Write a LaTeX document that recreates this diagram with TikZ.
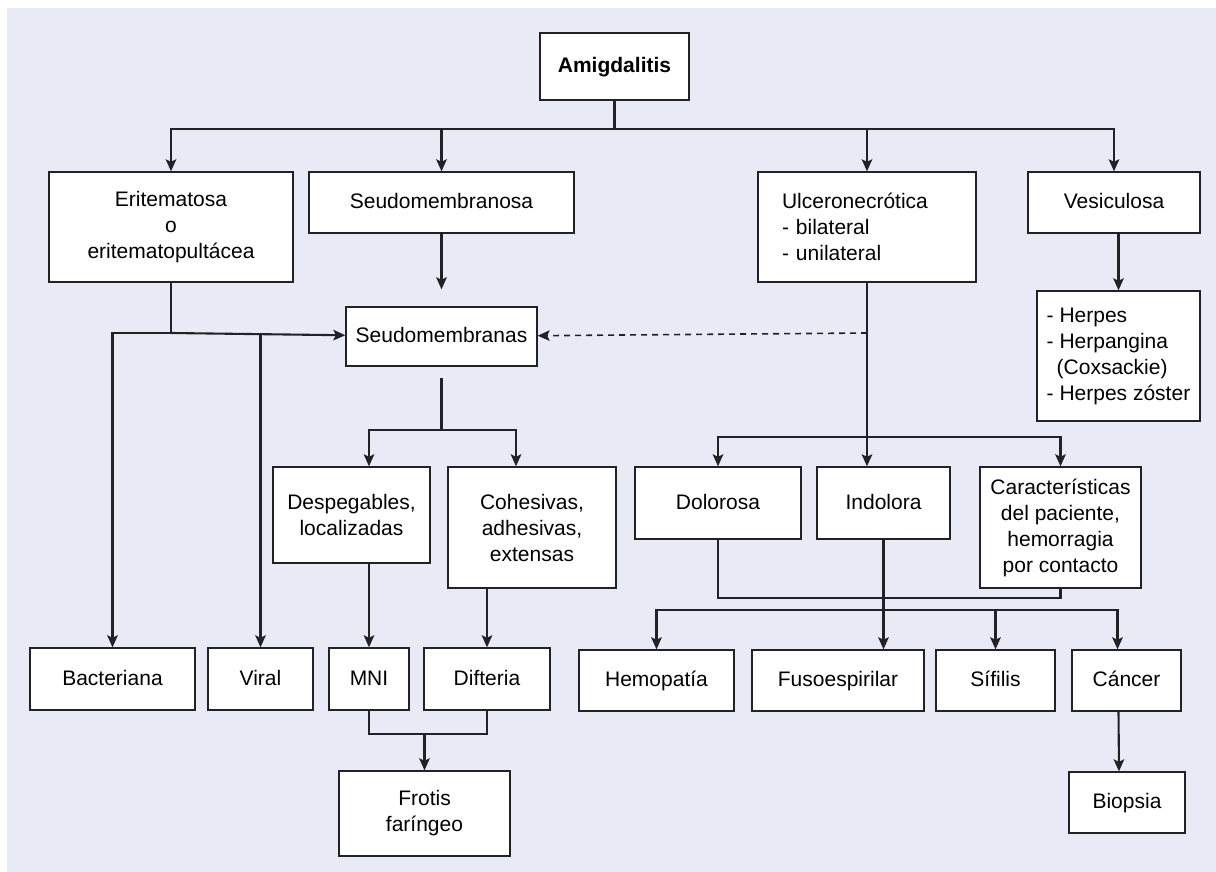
\documentclass[tikz,border=0pt]{standalone}
\usepackage{fontspec}
\setmainfont{Liberation Sans}
\usetikzlibrary{arrows.meta}
\definecolor{bglav}{RGB}{232,235,246}
\definecolor{linegray}{RGB}{34,34,38}
\tikzset{
    box/.style={draw=linegray, fill=white, line width=1.3pt, inner sep=0pt, align=center,
        font=\fontsize{21}{26}\selectfont},
    single/.style={box, text height=16pt, text depth=4pt},
    conn/.style={draw=linegray, line width=2.1pt},
    arr/.style={conn, -{Stealth[length=12pt, width=10.5pt, inset=2.5pt]}},
    darr/.style={arr, line width=1.6pt, dash pattern=on 6pt off 5pt}
}
\begin{document}
\begin{tikzpicture}[x=1pt, y=-1pt]
    \useasboundingbox (0,0) rectangle (1216,872);
    \fill[bglav] (7,8) rectangle (1216,872);

    % Nodes
    \node[single, minimum width=149pt, minimum height=67pt, font=\fontsize{21}{26}\selectfont\bfseries] (amig) at (614.5,66.5) {Amigdalitis};
    \node[box, minimum width=244pt, minimum height=110pt] (erit) at (171,227) {Eritematosa\\o\\eritematopultácea};
    \node[single, minimum width=265pt, minimum height=61pt] (seudo) at (441.5,202.5) {Seudomembranosa};
    \node[box, minimum width=218pt, minimum height=110pt, align=left, text width=170pt] (ulcero) at (867,227) {Ulceronecrótica\\- bilateral\\- unilateral};
    \node[single, minimum width=172pt, minimum height=61pt] (vesic) at (1114,202.5) {Vesiculosa};
    \node[single, minimum width=191pt, minimum height=59pt] (seudomem) at (441.5,336.5) {Seudomembranas};
    \node[box, minimum width=163pt, minimum height=130pt, align=left] (herpes) at (1118.5,356) {- Herpes\\- Herpangina\\\hspace*{10pt}(Coxsackie)\\- Herpes zóster};
    \node[box, minimum width=157pt, minimum height=96pt] (despeg) at (351.5,515) {Despegables,\\localizadas};
    \node[box, minimum width=168pt, minimum height=121pt] (cohes) at (532,527.5) {Cohesivas,\\adhesivas,\\extensas};
    \node[single, minimum width=166pt, minimum height=72pt] (dolor) at (718,503) {Dolorosa};
    \node[single, minimum width=133pt, minimum height=72pt] (indol) at (883.5,503) {Indolora};
    \node[box, minimum width=161pt, minimum height=121pt] (caract) at (1060.5,527.5) {Características\\del paciente,\\hemorragia\\por contacto};
    \node[single, minimum width=165pt, minimum height=62pt] (bact) at (112.5,679) {Bacteriana};
    \node[single, minimum width=105pt, minimum height=62pt] (viral) at (260.5,679) {Viral};
    \node[single, minimum width=80pt, minimum height=62pt] (mni) at (369,679) {MNI};
    \node[single, minimum width=126pt, minimum height=62pt] (dift) at (487,679) {Difteria};
    \node[single, minimum width=155pt, minimum height=61pt] (hemop) at (656.5,680.5) {Hemopatía};
    \node[single, minimum width=172pt, minimum height=61pt] (fuso) at (838,680.5) {Fusoespirilar};
    \node[single, minimum width=119pt, minimum height=61pt] (sifil) at (995.5,680.5) {Sífilis};
    \node[single, minimum width=109pt, minimum height=61pt] (cancer) at (1126.5,680.5) {Cáncer};
    \node[box, minimum width=171pt, minimum height=85pt] (frotis) at (424.5,813.5) {Frotis\\faríngeo};
    \node[single, minimum width=116pt, minimum height=61pt] (biopsia) at (1127,802.5) {Biopsia};

    % Junctions
    \coordinate (topjoin) at (614.5,129);
    \coordinate (erjoin) at (171,333);
    \coordinate (smjoin) at (441.5,430);
    \coordinate (frjoin) at (424.5,734);
    \coordinate (ucjoin) at (867,437);
    \coordinate (dcjoin) at (884,598);
    \coordinate (hsjoin) at (884,610);

    % Lines
    \draw[conn] (amig) -- (topjoin);
    \draw[arr] (topjoin) -| (erit);
    \draw[arr] (topjoin) -| (seudo);
    \draw[arr] (topjoin) -| (ulcero);
    \draw[arr] (topjoin) -| (vesic);

    \draw[arr, shorten >=17pt] (seudo) -- (seudomem);
    \draw[conn] (erit) -- (erjoin);
    \draw[arr] (erjoin) -- (seudomem);
    \draw[arr] (erjoin) -| (bact);
    \draw[arr] (viral |- erjoin) -- (viral);
    \draw[darr] (ulcero |- erjoin) -- (seudomem);

    \draw[conn, shorten <=11pt] (seudomem) -- (smjoin);
    \draw[arr] (smjoin) -| (mni |- despeg.north);
    \draw[arr] (smjoin) -| ([xshift=-16pt]cohes.north);
    \draw[arr] (mni |- despeg.south) -- (mni);
    \draw[arr] (dift |- cohes.south) -- (dift);
    \draw[conn] (mni) |- (frjoin) -| (dift);
    \draw[arr] (frjoin) -- (frotis);

    \draw[arr] (herpes |- vesic.south) -- (herpes);

    \draw[arr] (ulcero) -- (ulcero |- indol.north);
    \draw[arr] (ucjoin) -| (dolor);
    \draw[arr] (ucjoin) -| (caract);
    \draw[conn] (dolor) |- (dcjoin) -| (caract);
    \draw[arr] (indol) -- (indol |- fuso.north);
    \draw[arr] (hsjoin) -| (hemop);
    \draw[arr] (hsjoin) -| ([xshift=-9pt]cancer.north);
    \draw[arr] (sifil |- hsjoin) -- (sifil);
    \draw[arr] ([xshift=-8pt]cancer.south) -- ([xshift=-8pt]biopsia.north);
\end{tikzpicture}
\end{document}
